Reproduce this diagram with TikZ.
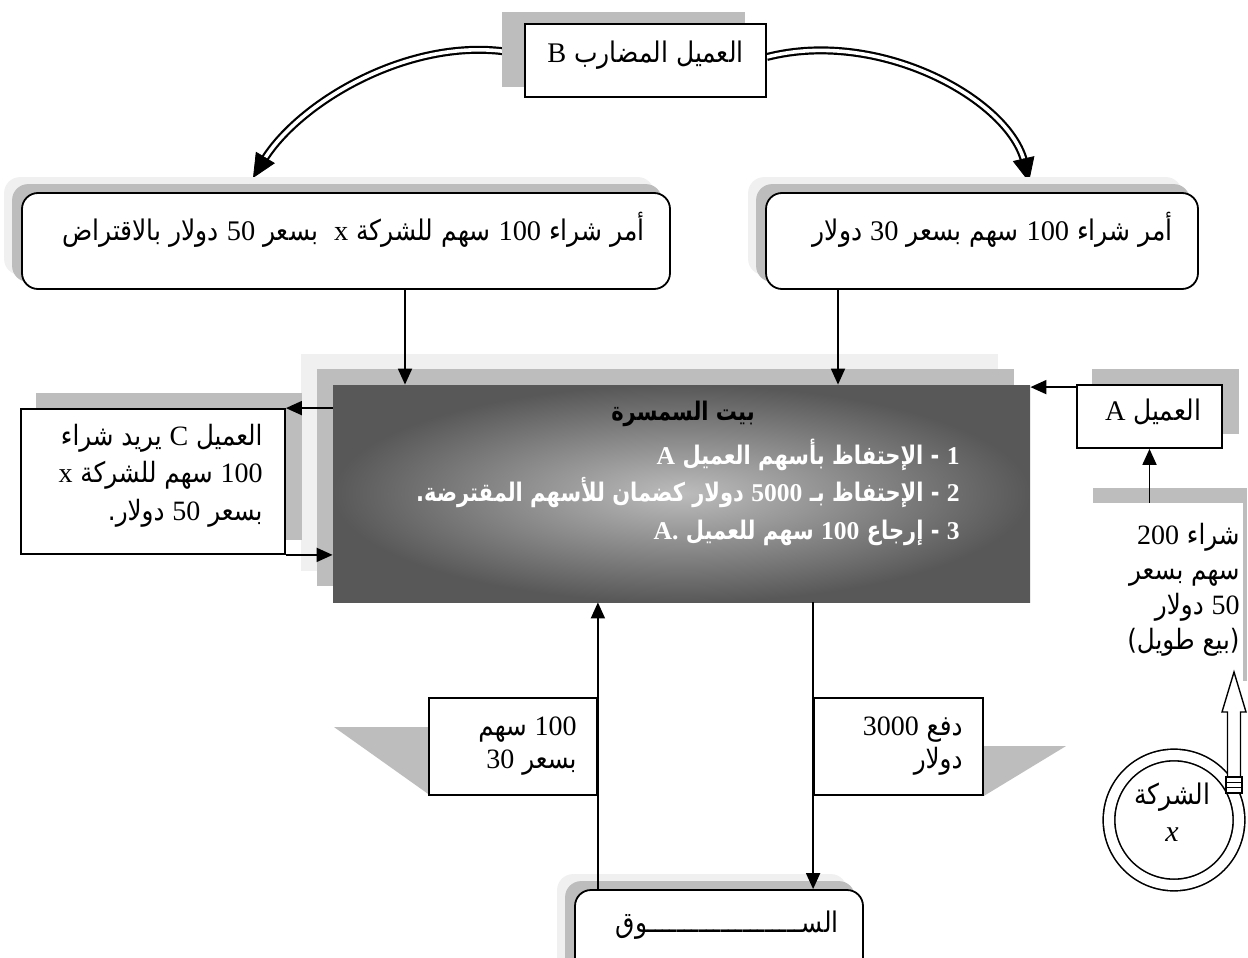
\documentclass[tikz,border=0pt]{standalone}
\usepackage{fontspec}
\newfontfamily\ar[Script=Arabic,FakeStretch=0.88]{DejaVu Sans}
\newfontfamily\arb[Script=Arabic,FakeStretch=0.82]{DejaVu Sans}
\newfontfamily\latf{Liberation Serif}
\newcommand{\ltn}[1]{{\latf #1}}
\TeXXeTstate=1
\usetikzlibrary{arrows.meta,calc}
\definecolor{shL}{RGB}{240,240,240}
\definecolor{shM}{RGB}{189,189,189}
\definecolor{hubIn}{RGB}{188,188,188}
\definecolor{hubOut}{RGB}{88,88,88}
\pgfdeclarelayer{lowest}
\pgfdeclarelayer{shadow}
\pgfsetlayers{lowest,shadow,main}
\begin{document}
\begin{tikzpicture}[x=0.5pt,y=-0.5pt,
  box/.style={draw,line width=0.9pt,fill=white,inner sep=0pt},
  rbox/.style={box,rounded corners=8pt},
  txt/.style={font=\ar\fontsize{14.2}{18.5}\selectfont,inner sep=0pt},
  btxt/.style={font=\arb\bfseries\fontsize{12.8}{18.75}\selectfont,inner sep=0pt},
  arr/.style={line width=0.9pt,-{Triangle[length=8pt,width=7pt]}},
  dbl/.style={double,double distance=1.8pt,line width=1.1pt},
  bigtip/.style={-{Triangle[length=12pt,width=11pt]}}
]
\useasboundingbox (0,0) rectangle (1248,958);
\begin{pgfonlayer}{lowest}
  \fill[white] (0,0) rectangle (1248,958);
\end{pgfonlayer}

% ---------- nodes ----------
\node[box, minimum width=120.5pt, minimum height=36.5pt] (B) at (645.5,60.5) {};
\node[txt] (Bt) at (645.5,55) {\beginR العميل المضارب \ltn{B}\endR};

\node[rbox, minimum width=324pt, minimum height=48pt] (LB) at (346,241) {};
\node[txt, anchor=east] (LBt) at (645,230) {\beginR أمر شراء \ltn{100} سهم للشركة \ltn{x} \ بسعر \ltn{50} دولار بالاقتراض\endR};

\node[rbox, minimum width=216pt, minimum height=48pt] (RB) at (982,241) {};
\node[txt, anchor=east] (RBt) at (1173,230) {\beginR أمر شراء \ltn{100} سهم بسعر \ltn{30} دولار\endR};

\node[draw=none, shading=radial, inner color=hubIn, outer color=hubOut,
      minimum width=348.5pt, minimum height=108.5pt, inner sep=0pt] (H) at (681.5,493.5) {};
\node[btxt, text=black] (Ht) at (683,414) {\beginR بيت السمسرة\endR};
\node[btxt, text=white, anchor=east, align=right] (Hl) at (960,492)
  {\beginR \ltn{1} - الإحتفاظ بأسهم العميل \ltn{A}\endR\\
   \beginR \ltn{2} - الإحتفاظ بـ \ltn{5000} دولار كضمان للأسهم المقترضة.\endR\\
   \beginR \ltn{3} - إرجاع \ltn{100} سهم للعميل \beginL\ltn{A.}\endL\endR};

\node[box, minimum width=132pt, minimum height=72.5pt] (C) at (153,481.5) {};
\node[txt, anchor=east, align=right, font=\ar\fontsize{14}{18.75}\selectfont] (Ct) at (263,475.5)
  {\beginR العميل \ltn{C} يريد شراء\endR\\ \beginR \ltn{100} سهم للشركة \ltn{x}\endR\\ \beginR بسعر \ltn{50} دولار.\endR};

\node[box, minimum width=72.5pt, minimum height=31.5pt] (A) at (1149.5,416.5) {};
\node[txt] (At) at (1153,412) {\beginR العميل \ltn{A}\endR};

\node[fill=white, minimum width=81.5pt, minimum height=96.5pt, inner sep=0pt] (L) at (1161.5,599.5) {};
\node[txt, anchor=east, align=right, font=\ar\fontsize{14}{17.5}\selectfont] (Lt) at (1240,590)
  {\beginR شراء \ltn{200}\endR\\ \beginR سهم بسعر\endR\\ \beginR \ltn{50} دولار\endR\\ \beginR (بيع طويل)\endR};

\node[circle, draw, double, double distance=5pt, line width=0.8pt, fill=white,
      minimum size=65pt, inner sep=0pt] (X) at (1174,820) {};
\node[txt] (Xt1) at (1172,797) {\beginR الشركة\endR};
\node[inner sep=0pt, font=\latf\itshape\fontsize{15}{16}\selectfont] (Xt2) at (1172,835) {x};

\node[box, minimum width=84pt, minimum height=48.5pt] (LL) at (513,746.5) {};
\node[txt, anchor=east, align=right, font=\ar\fontsize{14}{16.5}\selectfont] (LLt) at (577,746.5)
  {\beginR \ltn{100} سهم\endR\\ \beginR بسعر \ltn{30}\endR};

\node[box, minimum width=84.5pt, minimum height=48.5pt] (RL) at (898.5,746.5) {};
\node[txt, anchor=east, align=right, font=\ar\fontsize{14}{16.5}\selectfont] (RLt) at (963,746.5)
  {\beginR دفع \ltn{3000}\endR\\ \beginR دولار\endR};

\node[rbox, minimum width=144pt, minimum height=50pt] (M) at (719,940) {};
\node[txt, anchor=east] (Mt) at (839,925) {\beginR الســـــــــــــــــــــوق\endR};

% ---------- shadows ----------
\begin{pgfonlayer}{shadow}
  \fill[shM] ([shift={(-22,-11)}]B.south west) rectangle ([shift={(-22,-11)}]B.north east);
  \foreach \n in {LB,RB,M}{
    \fill[shL, rounded corners=8pt] ([shift={(-17,-15)}]\n.south west) rectangle ([shift={(-17,-15)}]\n.north east);
    \fill[shM, rounded corners=8pt] ([shift={(-9,-8)}]\n.south west) rectangle ([shift={(-9,-8)}]\n.north east);
  }
  \fill[shL] ([shift={(-32,-31)}]H.south west) rectangle ([shift={(-32,-31)}]H.north east);
  \fill[shM] ([shift={(-16,-16)}]H.south west) rectangle ([shift={(-16,-16)}]H.north east);
  \fill[shM] ([shift={(16,-15)}]C.south west) rectangle ([shift={(16,-15)}]C.north east);
  \fill[shM] ([shift={(16,-15)}]A.south west) rectangle ([shift={(16,-15)}]A.north east);
  \fill[shM] ([shift={(13,-15)}]L.south west) rectangle ([shift={(4,-15)}]L.north east);
  \fill[shM] ([shift={(-94,30)}]LL.north west) -- ([shift={(0,30)}]LL.north west) -- ([shift={(0,-2)}]LL.south west) -- cycle;
  \fill[shM] ([shift={(0,49)}]RL.north east) -- ([shift={(82,49)}]RL.north east) -- (RL.south east) -- cycle;
\end{pgfonlayer}

% ---------- double curved arrows ----------
\begin{pgfonlayer}{lowest}
  \coordinate (sL) at ([yshift=2.75pt]B.west);
  \coordinate (cL1) at (420,30);
  \coordinate (cL2) at (300,100);
  \coordinate (tipL) at (253,178);
  \draw[dbl, shorten >=10pt] (sL) .. controls (cL1) and (cL2) .. (tipL);
  \draw[bigtip] ($(tipL)!12pt!(cL2)$) -- (tipL);
  \coordinate (sR) at ([yshift=1.75pt]B.east);
  \coordinate (cR1) at (880,28);
  \coordinate (cR2) at (1010,100);
  \coordinate (tipR) at (1029,182);
  \draw[dbl, shorten >=10pt] (sR) .. controls (cR1) and (cR2) .. (tipR);
  \draw[bigtip] ($(tipR)!12pt!(cR2)$) -- (tipR);
\end{pgfonlayer}

% ---------- straight connectors ----------
\coordinate (t1) at ([xshift=29.5pt]LB.south);
\draw[arr] (t1) -- (t1 |- H.north);
\coordinate (t2) at ([xshift=-72pt]RB.south);
\draw[arr] (t2) -- (t2 |- H.north);
\draw[arr] (C.north east -| H.west) -- (C.north east);
\draw[arr] (C.south east) -- (C.south east -| H.west);
\coordinate (a1) at ([yshift=-1.5pt]A.north west);
\draw[arr] (a1) -- (a1 -| H.east);
\draw[arr] (A.south |- L.north) -- (A.south);
\draw[arr] (LL.east |- M.north) -- (LL.east |- H.south);
\draw[arr] (RL.west |- H.south) -- (RL.west |- M.north);

% ---------- hollow arrow from company circle ----------
\draw[line width=0.7pt, fill=white]
  (1234,672) -- (1246,712) -- (1240.5,712) -- (1240.5,777) -- (1227.5,777) -- (1227.5,712) -- (1222,712) -- cycle;
\draw[line width=0.7pt, fill=white] (1226,777) rectangle (1242,793);
\draw[line width=0.6pt] (1226,782.5) -- (1242,782.5) (1226,787.5) -- (1242,787.5);
\end{tikzpicture}
\end{document}
